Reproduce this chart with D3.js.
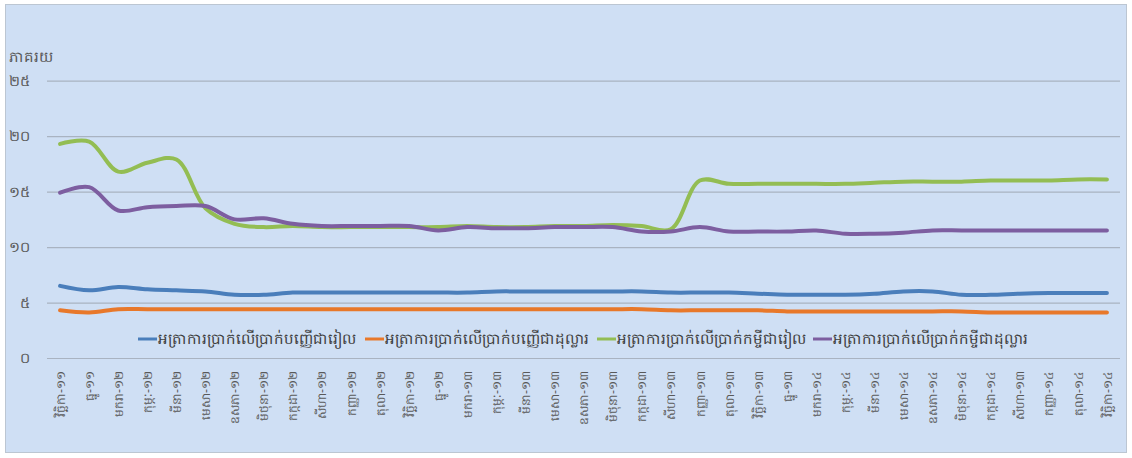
<!DOCTYPE html>
<html><head><meta charset="utf-8">
<script src="https://cdn.jsdelivr.net/npm/d3@7/dist/d3.min.js"></script>
<style>
html,body{margin:0;padding:0;background:#ffffff;}
svg{display:block;font-family:"Noto Sans","DejaVu Sans",sans-serif;}
</style>
</head><body>
<svg id="chart" width="1132" height="458"></svg>
<script>
const categories = [
  "វិច្ឆិកា-១១","ធ្នូ-១១","មករា-១២","កុម្ភៈ-១២","មីនា-១២","មេសា-១២","ឧសភា-១២","មិថុនា-១២","កក្កដា-១២","សីហា-១២","កញ្ញា-១២","តុលា-១២",
  "វិច្ឆិកា-១២","ធ្នូ-១២","មករា-១៣","កុម្ភៈ-១៣","មីនា-១៣","មេសា-១៣","ឧសភា-១៣","មិថុនា-១៣","កក្កដា-១៣","សីហា-១៣","កញ្ញា-១៣","តុលា-១៣",
  "វិច្ឆិកា-១៣","ធ្នូ-១៣","មករា-១៤","កុម្ភៈ-១៤","មីនា-១៤","មេសា-១៤","ឧសភា-១៤","មិថុនា-១៤","កក្កដា-១៤","សីហា-១៣","កញ្ញា-១៤","តុលា-១៤","វិច្ឆិកា-១៤"
];
const depositRiel = [6.5,6.1,6.4,6.2,6.1,6.0,5.7,5.7,5.9,5.9,5.9,5.9,5.9,5.9,5.9,6.0,6.0,6.0,6.0,6.0,6.0,5.9,5.9,5.9,5.8,5.7,5.7,5.7,5.8,6.0,6.0,5.7,5.7,5.8,5.85,5.85,5.85];
const depositDollar = [4.3,4.1,4.4,4.4,4.4,4.4,4.4,4.4,4.4,4.4,4.4,4.4,4.4,4.4,4.4,4.4,4.4,4.4,4.4,4.4,4.4,4.3,4.3,4.3,4.3,4.2,4.2,4.2,4.2,4.2,4.2,4.2,4.1,4.1,4.1,4.1,4.1];
const loanRiel = [19.3,19.5,16.8,17.6,17.9,13.5,12.1,11.8,11.9,11.8,11.8,11.8,11.8,11.8,11.9,11.8,11.8,11.9,11.9,12.0,11.9,11.6,16.0,15.7,15.7,15.7,15.7,15.7,15.8,15.9,15.9,15.9,16.0,16.0,16.0,16.1,16.1];
const loanDollar = [14.9,15.4,13.3,13.6,13.7,13.7,12.5,12.6,12.1,11.9,11.9,11.9,11.9,11.5,11.8,11.7,11.7,11.8,11.8,11.8,11.4,11.4,11.8,11.4,11.4,11.4,11.5,11.2,11.2,11.3,11.5,11.5,11.5,11.5,11.5,11.5,11.5];
const seriesNames = [
  "អត្រាការប្រាក់លើប្រាក់បញ្ញើជារៀល",
  "អត្រាការប្រាក់លើប្រាក់បញ្ញើជាដុល្លារ",
  "អត្រាការប្រាក់លើប្រាក់កម្ចីជារៀល",
  "អត្រាការប្រាក់លើប្រាក់កម្ចីជាដុល្លារ"
];
const seriesColors = ["#4a7ebb","#e8782a","#93bd53","#7d5ea0"];
const yTickValues = [0,5,10,15,20,25];
const yTickLabels = ["០","៥","១០","១៥","២០","២៥"];
const yTitle = "ភាគរយ";

const seriesValues = [depositRiel, depositDollar, loanRiel, loanDollar];

(function(){
const svg = d3.select("#chart");
svg.append("rect").attr("x",5.5).attr("y",4.5).attr("width",1121).attr("height",448)
  .attr("fill","#cfdff4").attr("stroke","#bcc6d2").attr("stroke-width",1);

const pLeft = 47, pRight = 1120, pTop = 80.7, pBottom = 358;
const idx = d3.range(categories.length);
const x = d3.scalePoint().domain(idx).range([pLeft, pRight]).padding(0.45);
const y = d3.scaleLinear().domain([0,25]).range([pBottom, pTop]);

const yAxis = d3.axisLeft(y).tickValues(yTickValues).tickSize(-(pRight-pLeft))
  .tickFormat((d,i)=>yTickLabels[i]).tickPadding(18);
const gy = svg.append("g").attr("transform",`translate(${pLeft},0)`).call(yAxis);
gy.select(".domain").remove();
gy.selectAll(".tick line").attr("stroke","#a9b3c1").attr("stroke-width",1.2);
gy.selectAll(".tick text").attr("fill","#595959").attr("font-size",14.5)
  .attr("text-anchor","end").attr("x",-17);

svg.append("text").attr("x",9).attr("y",62).attr("fill","#595959")
  .attr("font-size",15).text(yTitle);

const xAxis = d3.axisBottom(x).tickSize(0).tickPadding(0).tickFormat(i=>categories[i]);
const gx = svg.append("g").attr("transform",`translate(0,${pBottom})`).call(xAxis);
gx.select(".domain").remove();
gx.selectAll(".tick text")
  .attr("fill","#595959").attr("font-size",12)
  .attr("text-anchor","end")
  .attr("transform","translate(0,13) rotate(-90)")
  .attr("x",0).attr("y",0).attr("dy","0.35em");

const line = d3.line()
  .x((d,i)=>x(i))
  .y(d=>y(d))
  .curve(d3.curveCatmullRom.alpha(0.5));
[0,1,2,3].forEach(k=>{
  svg.append("path").datum(seriesValues[k])
    .attr("fill","none").attr("stroke",seriesColors[k])
    .attr("stroke-width",4).attr("stroke-linecap","round").attr("stroke-linejoin","round")
    .attr("d",line);
});

const legendX = [138,365,597,813];
const ly = 339;
const lg = svg.append("g");
seriesNames.forEach((n,i)=>{
  lg.append("line").attr("x1",legendX[i]).attr("x2",legendX[i]+19)
    .attr("y1",ly).attr("y2",ly).attr("stroke",seriesColors[i]).attr("stroke-width",3);
  lg.append("text").attr("x",legendX[i]+20).attr("y",ly).attr("dy","0.35em")
    .attr("fill","#404040").attr("font-size",15).text(n);
});
})();
</script>
</body></html>
